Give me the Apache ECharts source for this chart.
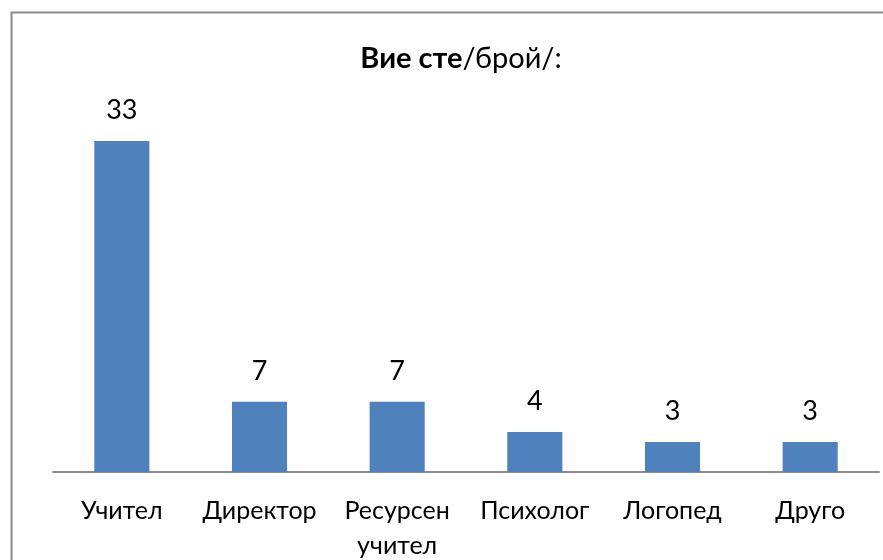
<!DOCTYPE html>
<html>
<head>
<meta charset="utf-8">
<script src="https://cdn.jsdelivr.net/npm/echarts@6/dist/echarts.min.js"></script>
<style>
  html, body { margin: 0; padding: 0; background: #fff; }
  #chart { width: 883px; height: 560px; }
</style>
</head>
<body>
<div id="chart"></div>
<script>
// данни от графиката
const categories = ["Учител", "Директор", "Ресурсен\nучител", "Психолог", "Логопед", "Друго"];
const counts = [33, 7, 7, 4, 3, 3];

const fontFamily = "Lato, 'Open Sans', 'Noto Sans', sans-serif";

const chart = echarts.init(document.getElementById("chart"));
const option = {
  animation: false,
  title: {
    text: "{b|Вие сте}{n|/брой/:}",
    left: 456,
    top: 39,
    textAlign: "center",
    textStyle: {
      fontFamily,
      fontSize: 29,
      color: "#000",
      rich: {
        b: { fontFamily, fontSize: 29, fontWeight: "bold", color: "#000" },
        n: { fontFamily, fontSize: 29, fontWeight: "normal", color: "#000" },
      },
    },
  },
  graphic: [
    {
      type: "rect",
      shape: { x: 11.5, y: 12.5, width: 920, height: 600 },
      style: { fill: null, stroke: "#8c8c8c", lineWidth: 2 },
      silent: true,
    },
  ],
  grid: { left: 53, right: 4, top: 121, bottom: 88, outerBoundsMode: "none" },
  xAxis: {
    type: "category",
    data: categories,
    axisLine: { lineStyle: { color: "#8c8c8c", width: 2 } },
    axisTick: { show: false },
    axisLabel: {
      fontFamily,
      fontSize: 25,
      color: "#000",
      margin: 21,
      lineHeight: 35,
      interval: 0,
    },
  },
  yAxis: {
    type: "value",
    min: 0,
    max: 35,
    show: false,
    splitLine: { show: false },
  },
  series: [
    {
      type: "bar",
      data: counts,
      barWidth: "40%",
      itemStyle: { color: "#4F81BD" },
      label: {
        show: true,
        position: "top",
        distance: 17,
        fontFamily,
        fontSize: 27,
        color: "#000",
      },
    },
  ],
};
chart.setOption(option);
</script>
</body>
</html>
